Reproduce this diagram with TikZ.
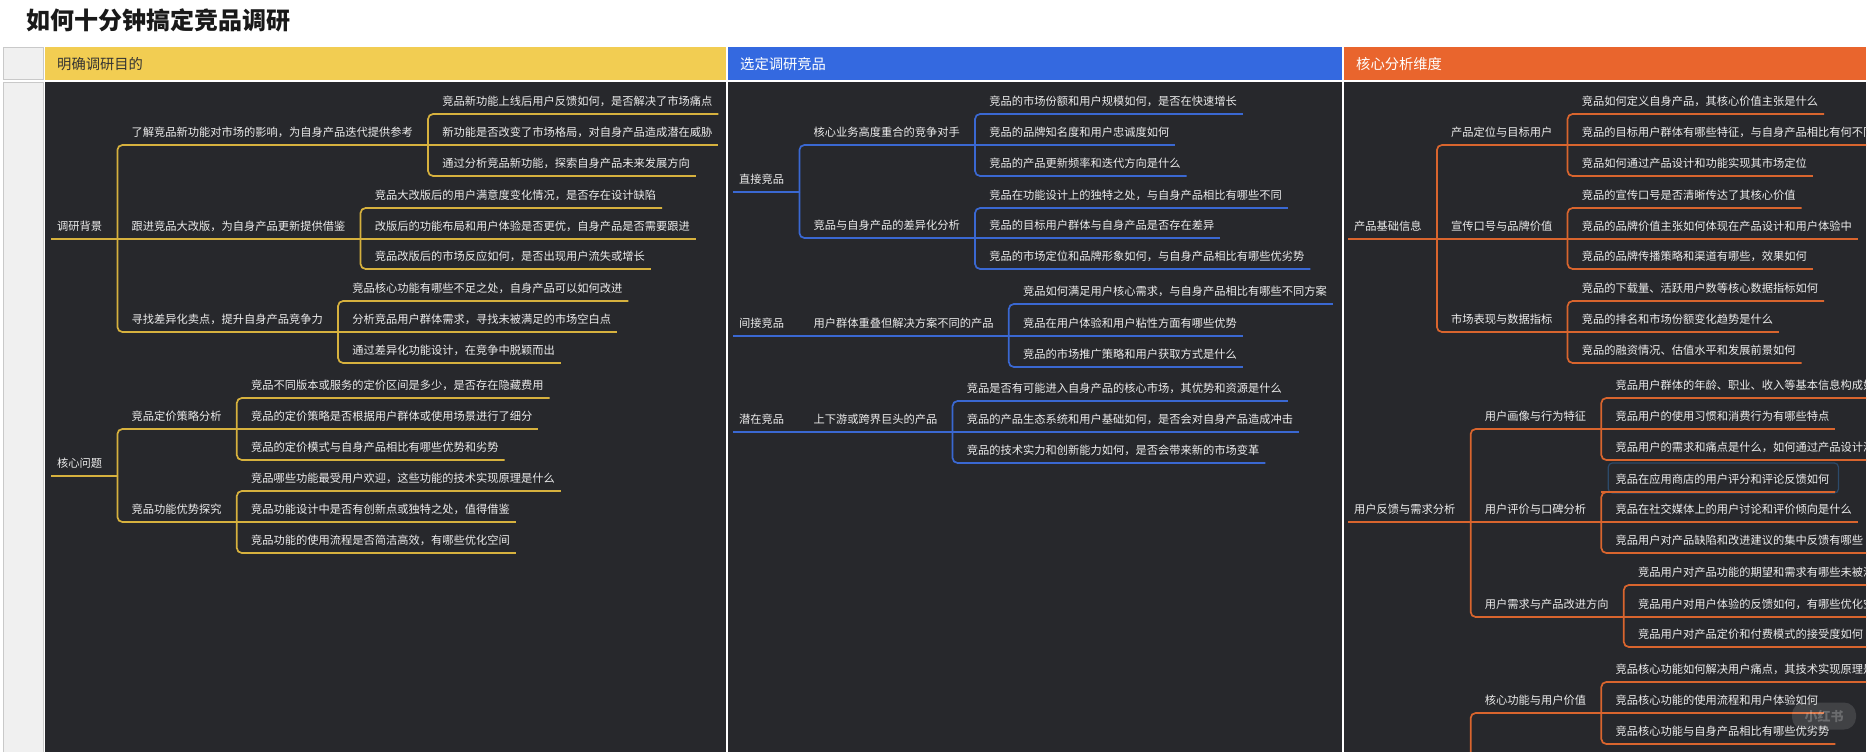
\documentclass[tikz,border=0pt]{standalone}
\usepackage{fontspec}
\usetikzlibrary{calc}
\newfontfamily\cjk{Noto Sans CJK SC}
\definecolor{panel}{HTML}{27282C}
\definecolor{txt}{HTML}{ECECEC}
\definecolor{yhead}{HTML}{F2CD52}
\definecolor{bhead}{HTML}{3469E0}
\definecolor{ohead}{HTML}{E9652D}
\definecolor{yline}{HTML}{D6B13E}
\definecolor{bline}{HTML}{3A68D2}
\definecolor{oline}{HTML}{D9652E}
\definecolor{lgray}{HTML}{F0F0F0}
\definecolor{bgray}{HTML}{C9C9C9}
\definecolor{hlbox}{HTML}{2C4A6A}
\newcommand\bodyfont{\cjk\fontsize{11.25}{13}\selectfont}
\newcommand\kid[5]{\node[#4] (#2) at ($(#1.south east)+(0,#3)$) {#5};
  \draw[conn] (#1.south east) |- (#2.south east);}
\newcommand\kidm[4]{\node[#3] (#2) at (#1.south east) {#4};
  \draw[conn] (#1.south east) -- (#2.south east);}
\tikzset{
  base/.style={anchor=south west, inner sep=0pt, text height=10pt, text depth=8.5pt, font=\bodyfont, text=txt},
  root/.style={base, execute at begin node=\kern6pt, execute at end node=\kern15pt},
  mid/.style={base, execute at begin node=\kern14pt, execute at end node=\kern15pt},
  leaf/.style={base, execute at begin node=\kern14pt, execute at end node=\kern6pt},
  head/.style={anchor=west, inner sep=0pt, font=\cjk\fontsize{14.3}{17}\selectfont},
}
\begin{document}
\begin{tikzpicture}[x=1pt,y=-1pt]
\useasboundingbox (0,0) rectangle (1872,752);
\fill[white] (0,0) rectangle (1872,752);
% title
\node[anchor=base west, inner sep=0pt, font=\cjk\bfseries\fontsize{24}{28}\selectfont, text=black!90] (title) at (26,30) {如何十分钟搞定竞品调研};
% table frame
\draw[bgray, line width=0.8pt, fill=lgray] (3,47) rectangle (43,79.5);
\draw[bgray, line width=0.8pt, fill=lgray] (3,82) rectangle (43,760);
\fill[yhead] (45,47) rectangle (726,80);
\fill[bhead] (728,47) rectangle (1342,80);
\fill[ohead] (1344,47) rectangle (1866,80);
\fill[panel] (45,82) rectangle (726,752);
\fill[panel] (728,82) rectangle (1342,752);
\fill[panel] (1344,82) rectangle (1866,752);
\node[head, text=black!80] (h1) at (57,64) {明确调研目的};
\node[head, text=white] (h2) at (740,64) {选定调研竞品};
\node[head, text=white] (h3) at (1356,64) {核心分析维度};

% ---------- column 1 ----------
\begin{scope}[conn/.style={line width=1.7pt, draw=yline, rounded corners=5pt}]
\clip (45,82) rectangle (726,752);
\node[root] (R1) at (51,239) {调研背景};
\draw[conn] (R1.south west) -- (R1.south east);
\kid{R1}{A1}{-94}{mid}{了解竞品新功能对市场的影响，为自身产品迭代提供参考}
\kid{A1}{A1a}{-31}{leaf}{竞品新功能上线后用户反馈如何，是否解决了市场痛点}
\kidm{A1}{A1b}{leaf}{新功能是否改变了市场格局，对自身产品造成潜在威胁}
\kid{A1}{A1c}{31}{leaf}{通过分析竞品新功能，探索自身产品未来发展方向}
\kidm{R1}{A2}{mid}{跟进竞品大改版，为自身产品更新提供借鉴}
\kid{A2}{A2a}{-31}{leaf}{竞品大改版后的用户满意度变化情况，是否存在设计缺陷}
\kidm{A2}{A2b}{leaf}{改版后的功能布局和用户体验是否更优，自身产品是否需要跟进}
\kid{A2}{A2c}{30}{leaf}{竞品改版后的市场反应如何，是否出现用户流失或增长}
\kid{R1}{A3}{93}{mid}{寻找差异化卖点，提升自身产品竞争力}
\kid{A3}{A3a}{-31}{leaf}{竞品核心功能有哪些不足之处，自身产品可以如何改进}
\kidm{A3}{A3b}{leaf}{分析竞品用户群体需求，寻找未被满足的市场空白点}
\kid{A3}{A3c}{31}{leaf}{通过差异化功能设计，在竞争中脱颖而出}
\node[root] (R2) at (51,476) {核心问题};
\draw[conn] (R2.south west) -- (R2.south east);
\kid{R2}{B1}{-47}{mid}{竞品定价策略分析}
\kid{B1}{B1a}{-31}{leaf}{竞品不同版本或服务的定价区间是多少，是否存在隐藏费用}
\kidm{B1}{B1b}{leaf}{竞品的定价策略是否根据用户群体或使用场景进行了细分}
\kid{B1}{B1c}{31}{leaf}{竞品的定价模式与自身产品相比有哪些优势和劣势}
\kid{R2}{B2}{46}{mid}{竞品功能优势探究}
\kid{B2}{B2a}{-31}{leaf}{竞品哪些功能最受用户欢迎，这些功能的技术实现原理是什么}
\kidm{B2}{B2b}{leaf}{竞品功能设计中是否有创新点或独特之处，值得借鉴}
\kid{B2}{B2c}{31}{leaf}{竞品功能的使用流程是否简洁高效，有哪些优化空间}
\end{scope}

% ---------- column 2 ----------
\begin{scope}[conn/.style={line width=1.7pt, draw=bline, rounded corners=5pt}]
\clip (728,82) rectangle (1342,752);
\node[root] (R3) at (733,192) {直接竞品};
\draw[conn] (R3.south west) -- (R3.south east);
\kid{R3}{C1}{-47}{mid}{核心业务高度重合的竞争对手}
\kid{C1}{C1a}{-31}{leaf}{竞品的市场份额和用户规模如何，是否在快速增长}
\kidm{C1}{C1b}{leaf}{竞品的品牌知名度和用户忠诚度如何}
\kid{C1}{C1c}{31}{leaf}{竞品的产品更新频率和迭代方向是什么}
\kid{R3}{C2}{46}{mid}{竞品与自身产品的差异化分析}
\kid{C2}{C2a}{-30}{leaf}{竞品在功能设计上的独特之处，与自身产品相比有哪些不同}
\kidm{C2}{C2b}{leaf}{竞品的目标用户群体与自身产品是否存在差异}
\kid{C2}{C2c}{31}{leaf}{竞品的市场定位和品牌形象如何，与自身产品相比有哪些优劣势}
\node[root] (R4) at (733,336) {间接竞品};
\draw[conn] (R4.south west) -- (R4.south east);
\kidm{R4}{C3}{mid}{用户群体重叠但解决方案不同的产品}
\kid{C3}{C3a}{-32}{leaf}{竞品如何满足用户核心需求，与自身产品相比有哪些不同方案}
\kidm{C3}{C3b}{leaf}{竞品在用户体验和用户粘性方面有哪些优势}
\kid{C3}{C3c}{31}{leaf}{竞品的市场推广策略和用户获取方式是什么}
\node[root] (R5) at (733,432) {潜在竞品};
\draw[conn] (R5.south west) -- (R5.south east);
\kidm{R5}{C4}{mid}{上下游或跨界巨头的产品}
\kid{C4}{C4a}{-31}{leaf}{竞品是否有可能进入自身产品的核心市场，其优势和资源是什么}
\kidm{C4}{C4b}{leaf}{竞品的产品生态系统和用户基础如何，是否会对自身产品造成冲击}
\kid{C4}{C4c}{31}{leaf}{竞品的技术实力和创新能力如何，是否会带来新的市场变革}
\end{scope}

% ---------- column 3 ----------
\begin{scope}[conn/.style={line width=1.7pt, draw=oline, rounded corners=5pt}]
\clip (1344,82) rectangle (1866,752);
\node[root] (R6) at (1348,239) {产品基础信息};
\draw[conn] (R6.south west) -- (R6.south east);
\kid{R6}{D1}{-94}{mid}{产品定位与目标用户}
\kid{D1}{D1a}{-31}{leaf}{竞品如何定义自身产品，其核心价值主张是什么}
\kidm{D1}{D1b}{leaf}{竞品的目标用户群体有哪些特征，与自身产品相比有何不同}
\kid{D1}{D1c}{31}{leaf}{竞品如何通过产品设计和功能实现其市场定位}
\kidm{R6}{D2}{mid}{宣传口号与品牌价值}
\kid{D2}{D2a}{-31}{leaf}{竞品的宣传口号是否清晰传达了其核心价值}
\kidm{D2}{D2b}{leaf}{竞品的品牌价值主张如何体现在产品设计和用户体验中}
\kid{D2}{D2c}{30}{leaf}{竞品的品牌传播策略和渠道有哪些，效果如何}
\kid{R6}{D3}{93}{mid}{市场表现与数据指标}
\kid{D3}{D3a}{-31}{leaf}{竞品的下载量、活跃用户数等核心数据指标如何}
\kidm{D3}{D3b}{leaf}{竞品的排名和市场份额变化趋势是什么}
\kid{D3}{D3c}{31}{leaf}{竞品的融资情况、估值水平和发展前景如何}
\node[root] (R7) at (1348,522) {用户反馈与需求分析};
\draw[conn] (R7.south west) -- (R7.south east);
\kid{R7}{E1}{-93}{mid}{用户画像与行为特征}
\kid{E1}{E1a}{-31}{leaf}{竞品用户群体的年龄、职业、收入等基本信息构成如何}
\kidm{E1}{E1b}{leaf}{竞品用户的使用习惯和消费行为有哪些特点}
\kid{E1}{E1c}{31}{leaf}{竞品用户的需求和痛点是什么，如何通过产品设计满足}
\kidm{R7}{E2}{mid}{用户评价与口碑分析}
\kid{E2}{E2a}{-30}{leaf}{竞品在应用商店的用户评分和评论反馈如何}
\draw[hlbox, line width=1.2pt, rounded corners=4pt] ($(E2a.south west)+(7,1)$) rectangle ($(E2a.south east)+(3,-29)$);
\draw[conn] (E2a.south west) -- (E2a.south east);
\kidm{E2}{E2b}{leaf}{竞品在社交媒体上的用户讨论和评价倾向是什么}
\kid{E2}{E2c}{31}{leaf}{竞品用户对产品缺陷和改进建议的集中反馈有哪些}
\kid{R7}{E3}{95}{mid}{用户需求与产品改进方向}
\kid{E3}{E3a}{-32}{leaf}{竞品用户对产品功能的期望和需求有哪些未被满足}
\kidm{E3}{E3b}{leaf}{竞品用户对用户体验的反馈如何，有哪些优化空间}
\kid{E3}{E3c}{30}{leaf}{竞品用户对产品定价和付费模式的接受度如何}
\coordinate (R8) at ($(R7.south east)+(0,284)$);
\kid{R8}{F1}{-93}{mid}{核心功能与用户价值}
\kid{F1}{F1a}{-31}{leaf}{竞品核心功能如何解决用户痛点，其技术实现原理是什么}
\kidm{F1}{F1b}{leaf}{竞品核心功能的使用流程和用户体验如何}
\kid{F1}{F1c}{31}{leaf}{竞品核心功能与自身产品相比有哪些优劣势}
\end{scope}
% watermark
\node[fill=white, fill opacity=0.12, text opacity=0.22, text=white, rounded corners=12pt, inner sep=0pt, minimum width=64pt, minimum height=27pt, font=\cjk\bfseries\fontsize{13}{15}\selectfont] (wm) at (1824,716) {小红书};
\end{tikzpicture}
\end{document}
